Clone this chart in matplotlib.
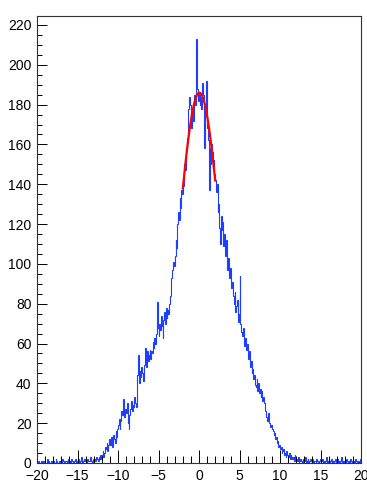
import numpy as np
import matplotlib
matplotlib.use("Agg")
import matplotlib.pyplot as plt
from matplotlib.ticker import MultipleLocator

#------------------------------- Chart data ------------------------------------
x_lo, x_hi = -20., 20.
n_bins = 400

# bin contents, 10 bins (1 unit) per row
counts = [
    0, 1, 0, 0, 0, 1, 0, 0, 1, 0,              # -20
    0, 0, 2, 0, 1, 0, 0, 1, 0, 0,              # -19
    1, 0, 0, 2, 1, 0, 0, 1, 0, 1,              # -18
    0, 2, 1, 0, 0, 1, 1, 0, 2, 0,              # -17
    1, 0, 2, 1, 0, 0, 1, 2, 0, 1,              # -16
    1, 2, 0, 1, 3, 1, 0, 1, 2, 1,              # -15
    1, 0, 2, 1, 1, 2, 3, 1, 0, 2,              # -14
    2, 1, 1, 3, 2, 1, 3, 2, 4, 2,              # -13
    4, 6, 3, 5, 8, 7, 10, 6, 9, 12,            # -12
    9, 13, 11, 8, 14, 12, 10, 16, 13, 17,      # -11
    19, 22, 17, 21, 26, 24, 32, 28, 23, 27,    # -10
    25, 30, 20, 17, 24, 27, 31, 26, 29, 28,    # -9
    33, 30, 28, 36, 44, 54, 40, 46, 43, 48,    # -8
    45, 41, 49, 58, 52, 48, 56, 51, 54, 57,    # -7
    52, 56, 55, 61, 58, 63, 60, 65, 81, 68,    # -6
    64, 70, 67, 74, 69, 63, 72, 76, 70, 78,    # -5
    73, 77, 75, 80, 84, 89, 93, 97, 101, 99,   # -4
    104, 112, 108, 120, 126, 122, 133, 128, 137, 135,  # -3
    139, 144, 150, 147, 158, 163, 172, 178, 184, 180,  # -2
    168, 175, 179, 172, 185, 180, 213, 196, 188, 182,  # -1
    186, 180, 184, 178, 191, 185, 158, 168, 177, 192,  # 0
    168, 162, 137, 158, 150, 160, 156, 148, 152, 145,  # 1
    142, 136, 140, 126, 130, 118, 110, 124, 117, 121,  # 2
    109, 115, 104, 112, 100, 97, 103, 93, 98, 90,      # 3
    88, 91, 84, 80, 86, 76, 79, 82, 71, 75,    # 4
    94, 70, 66, 64, 68, 62, 59, 63, 57, 60,    # 5
    55, 52, 56, 48, 51, 45, 47, 42, 44, 39,    # 6
    38, 42, 36, 40, 35, 37, 33, 36, 31, 33,    # 7
    30, 27, 26, 23, 21, 25, 24, 20, 18, 19,    # 8
    17, 16, 14, 15, 12, 13, 10, 11, 8, 9,      # 9
    7, 8, 5, 6, 7, 4, 5, 3, 6, 4,              # 10
    3, 5, 2, 4, 3, 2, 3, 1, 4, 2,              # 11
    2, 1, 3, 0, 1, 2, 1, 0, 2, 1,              # 12
    1, 3, 0, 1, 2, 0, 1, 2, 1, 0,              # 13
    2, 0, 1, 1, 0, 2, 1, 0, 1, 2,              # 14
    0, 1, 2, 0, 1, 0, 1, 3, 0, 1,              # 15
    1, 0, 1, 2, 0, 1, 0, 1, 2, 0,              # 16
    0, 2, 1, 0, 1, 3, 0, 1, 0, 1,              # 17
    1, 0, 2, 1, 0, 1, 0, 2, 1, 0,              # 18
    0, 1, 0, 2, 1, 0, 1, 1, 0, 2,              # 19
]

# gaussian fit shown in red, over [-2, 2]
fit_const = 186.
fit_mean = 0.05
fit_sigma = 2.65
fit_range = (-2., 2.)

#------------------------------- Style -----------------------------------------
color_hist = '#1f3fff'
color_fit = (1., 0., 0.)
plt.rcParams['font.family'] = ['Liberation Sans', 'DejaVu Sans']

#------------------------------- Plot ------------------------------------------
fig = plt.figure(figsize=(3.67, 4.88), dpi=100)
ax = fig.add_axes((37 / 367, 25 / 488, 324 / 367, 447 / 488))

edges = np.linspace(x_lo, x_hi, n_bins + 1)
ax.stairs(counts, edges, color=color_hist, lw=0.8)

xf = np.linspace(fit_range[0], fit_range[1], 200)
yf = fit_const * np.exp(-0.5 * ((xf - fit_mean) / fit_sigma) ** 2)
ax.plot(xf, yf, color=color_fit, lw=1.6)

ax.set_xlim(x_lo, x_hi)
ax.set_ylim(0, 224.5)

ax.xaxis.set_major_locator(MultipleLocator(5))
ax.xaxis.set_minor_locator(MultipleLocator(1))
ax.yaxis.set_major_locator(MultipleLocator(20))
ax.yaxis.set_minor_locator(MultipleLocator(5))

ax.tick_params(axis='x', which='major', direction='in', length=9.7,
               width=0.7, pad=4, labelsize=10)
ax.tick_params(axis='x', which='minor', direction='in', length=4.8, width=0.7)
ax.tick_params(axis='y', which='major', direction='in', length=7.2,
               width=0.7, pad=4, labelsize=10)
ax.tick_params(axis='y', which='minor', direction='in', length=3.6, width=0.7)

for sp in ax.spines.values():
    sp.set_linewidth(0.8)
    sp.set_color('#333333')

fig.savefig('out.png', dpi=100)
